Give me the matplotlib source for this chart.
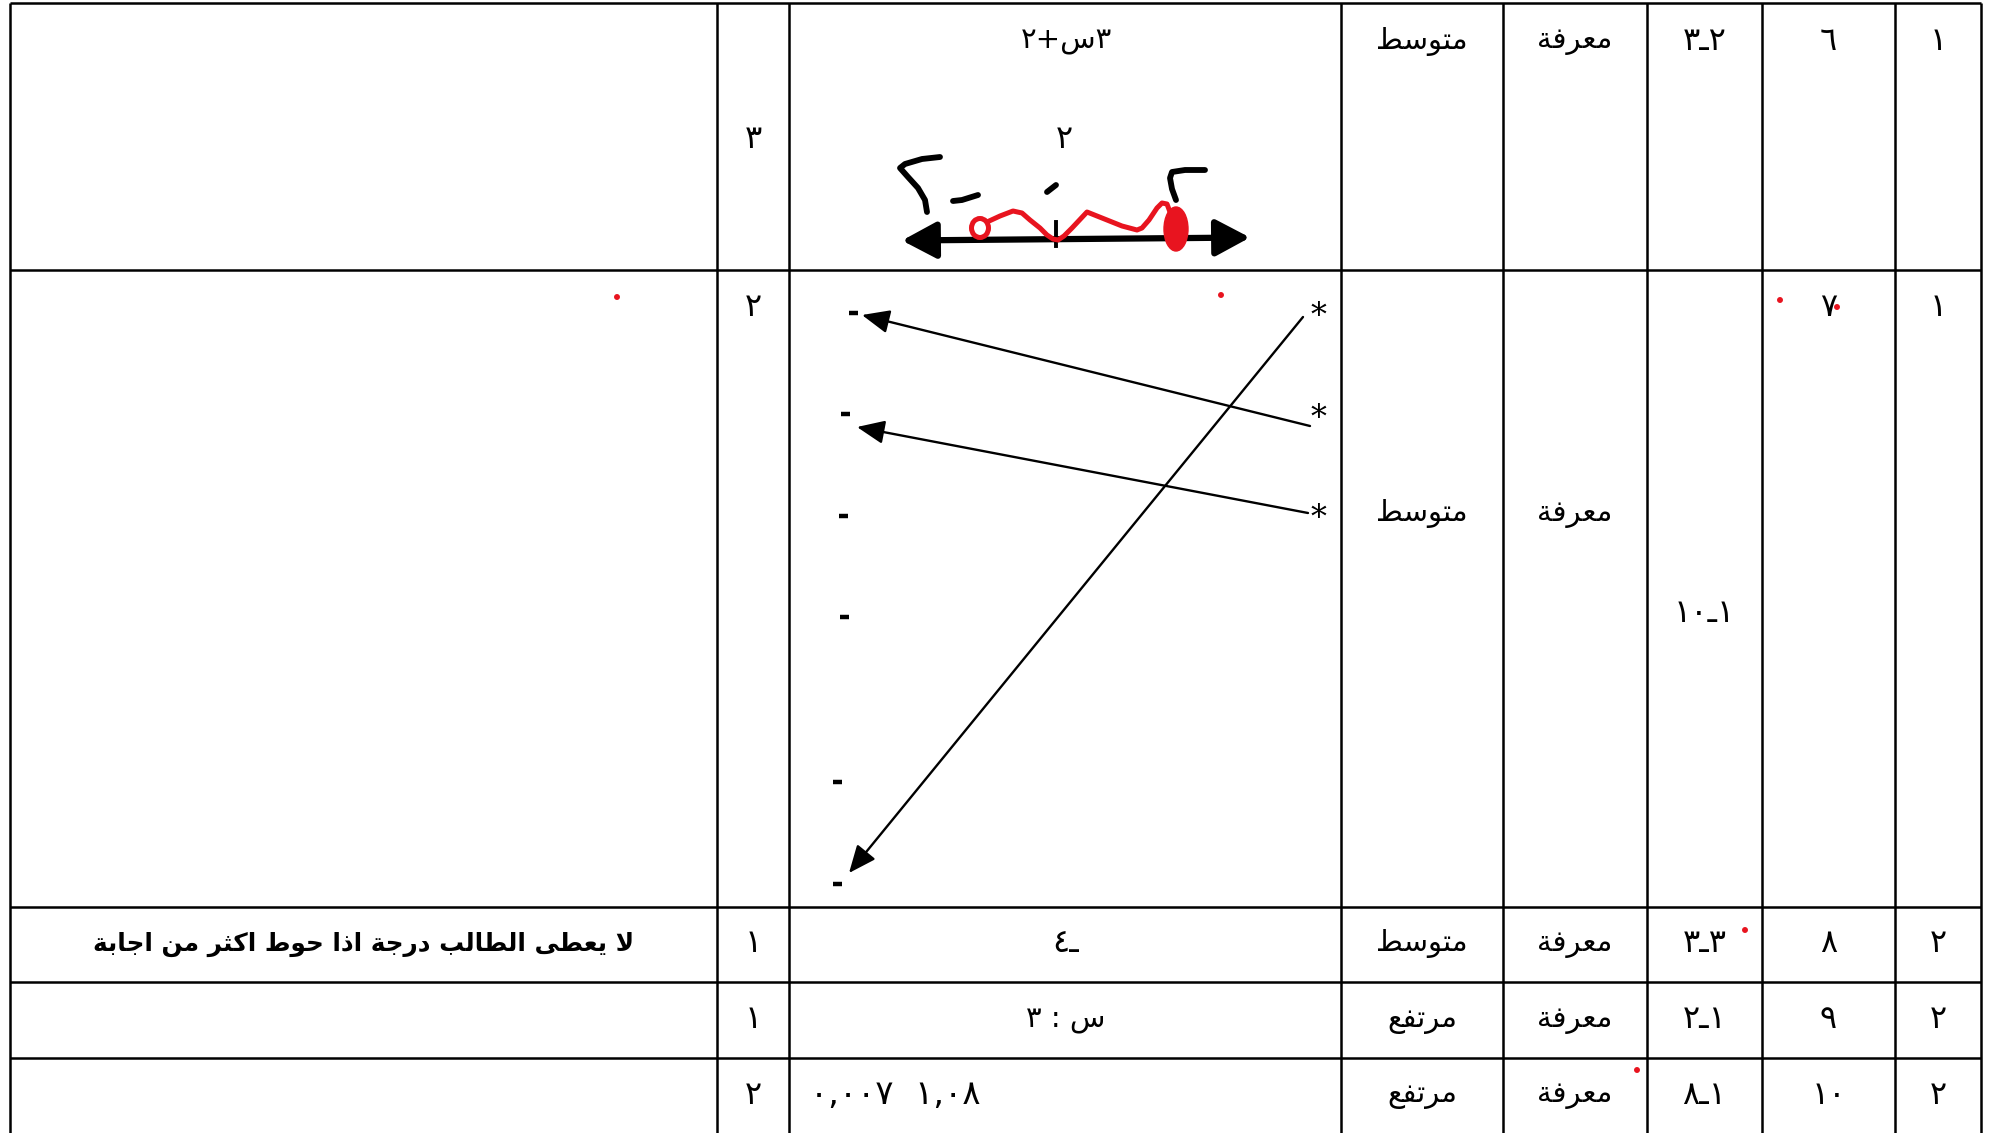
import matplotlib
matplotlib.use("Agg")
import matplotlib.pyplot as plt
from matplotlib.patches import FancyArrowPatch, Ellipse

# ---- table content (right-to-left table, columns listed right -> left) ----
groups = ["١", "١", "٢", "٢", "٢"]
question_no = ["٦", "٧", "٨", "٩", "١٠"]
objectives = ["٣ـ٢", "١٠ـ١", "٣ـ٣", "٢ـ١", "٨ـ١"]          # visual order
domains = ["معرفة", "معرفة", "معرفة", "معرفة", "معرفة"]
levels = ["متوسط", "متوسط", "متوسط", "مرتفع", "مرتفع"]
marks = ["٣", "٢", "١", "١", "٢"]
answers = ["٢+س٣", "", "٤ـ", "٣ : س", "٠,٠٠٧  ١,٠٨"]        # visual order
notes = ["", "", "لا يعطى الطالب درجة اذا حوط اكثر من اجابة", "", ""]
answer_sub = "٢"

# ---- handwriting on the number line (pixel coords) ----
line_x = [902, 1250]
line_y = [240.5, 237.5]
tick_x = [1056, 1056]
tick_y = [222, 246]
left_two_x = [940, 922, 905, 900, 908, 918, 925, 927]
left_two_y = [157, 159, 164, 168, 177, 188, 200, 212]
minus_x = [953, 962, 978]
minus_y = [201, 200, 195]
mid_mark_x = [1047, 1056]
mid_mark_y = [192, 185]
right_two_x = [1205, 1185, 1172, 1170, 1172, 1176]
right_two_y = [170, 170, 172, 178, 189, 200]
squiggle_x = [987, 1000, 1013, 1022, 1030, 1040, 1047, 1053, 1058, 1064, 1072,
              1087, 1097, 1107, 1122, 1137, 1142, 1149, 1157, 1162, 1167, 1170]
squiggle_y = [222, 216, 211, 213, 220, 228, 235, 239, 240, 236, 228,
              212, 216, 220, 226, 230, 228, 220, 208, 203, 204, 212]

# ---- matching exercise (row 2) ----
star_y = [316, 418, 519]
dash_x = [853, 845, 843, 844, 837, 837]
dash_y = [313, 414, 516, 617, 782, 884]
arrow_from = [(1310, 426), (1308, 513), (1303, 317)]
arrow_to = [(862, 315), (857, 427), (849, 873)]

red_dots = [(617, 297), (1221, 295), (1780, 300), (1837, 307), (1745, 930), (1637, 1070)]

# ---- layout ----
x_edges = [10, 717, 789, 1341, 1503, 1647, 1762, 1895, 1981]
y_edges = [2.5, 270, 907, 982, 1058]
row_y = [41, 308, 944, 1020, 1095]
W, H = 1991, 1133

FORMS = {  # isolated, final, initial, medial
    "ا": ("\uFE8D", "\uFE8E", None, None),
    "ب": ("\uFE8F", "\uFE90", "\uFE91", "\uFE92"),
    "ة": ("\uFE93", "\uFE94", None, None),
    "ت": ("\uFE95", "\uFE96", "\uFE97", "\uFE98"),
    "ث": ("\uFE99", "\uFE9A", "\uFE9B", "\uFE9C"),
    "ج": ("\uFE9D", "\uFE9E", "\uFE9F", "\uFEA0"),
    "ح": ("\uFEA1", "\uFEA2", "\uFEA3", "\uFEA4"),
    "د": ("\uFEA9", "\uFEAA", None, None),
    "ذ": ("\uFEAB", "\uFEAC", None, None),
    "ر": ("\uFEAD", "\uFEAE", None, None),
    "س": ("\uFEB1", "\uFEB2", "\uFEB3", "\uFEB4"),
    "ط": ("\uFEC1", "\uFEC2", "\uFEC3", "\uFEC4"),
    "ع": ("\uFEC9", "\uFECA", "\uFECB", "\uFECC"),
    "ف": ("\uFED1", "\uFED2", "\uFED3", "\uFED4"),
    "ك": ("\uFED9", "\uFEDA", "\uFEDB", "\uFEDC"),
    "ل": ("\uFEDD", "\uFEDE", "\uFEDF", "\uFEE0"),
    "م": ("\uFEE1", "\uFEE2", "\uFEE3", "\uFEE4"),
    "ن": ("\uFEE5", "\uFEE6", "\uFEE7", "\uFEE8"),
    "و": ("\uFEED", "\uFEEE", None, None),
    "ى": ("\uFEEF", "\uFEF0", None, None),
    "ي": ("\uFEF1", "\uFEF2", "\uFEF3", "\uFEF4"),
}


def shape(text):
    """Contextual forms + reversal, since matplotlib lays text out left to right."""
    out = []
    i = 0
    while i < len(text):
        ch = text[i]
        prev = text[i - 1] if i > 0 else ""
        joins_prev = prev in FORMS and FORMS[prev][2] is not None
        if ch == "ل" and i + 1 < len(text) and text[i + 1] == "ا":
            out.append("\uFEFC" if joins_prev else "\uFEFB")
            i += 2
            continue
        if ch not in FORMS:
            out.append(ch)
            i += 1
            continue
        nxt = text[i + 1] if i + 1 < len(text) else ""
        joins_next = nxt in FORMS and FORMS[ch][2] is not None
        iso, fin, ini, med = FORMS[ch]
        if joins_prev and joins_next:
            out.append(med)
        elif joins_prev:
            out.append(fin)
        elif joins_next:
            out.append(ini)
        else:
            out.append(iso)
        i += 1
    return "".join(reversed(out))


fig = plt.figure(figsize=(W / 100, H / 100), dpi=100)
ax = fig.add_axes([0, 0, 1, 1])
ax.set_xlim(0, W)
ax.set_ylim(H, 0)
ax.axis("off")

lw = 1.8
for x in x_edges:
    ax.plot([x, x], [y_edges[0], H + 5], color="black", lw=lw, solid_capstyle="butt")
for y in y_edges:
    ax.plot([x_edges[0], x_edges[-1]], [y, y], color="black", lw=lw, solid_capstyle="butt")

fs_num = 23
fs_word = 21
num = dict(ha="center", va="center", fontsize=fs_num, color="black", family="DejaVu Sans")
word = dict(num, fontsize=fs_word)
cx = [(x_edges[i] + x_edges[i + 1]) / 2 for i in range(len(x_edges) - 1)]

for r in range(5):
    y = row_y[r]
    ax.text(cx[7], y, groups[r], **num)
    ax.text(cx[6], y, question_no[r], **num)
    ax.text(cx[5], 613 if r == 1 else y, objectives[r], **num)
    ax.text(cx[4], 514 if r == 1 else y, shape(domains[r]), **word)
    ax.text(cx[3], 514 if r == 1 else y, shape(levels[r]), **word)
    ax.text(cx[1], 140 if r == 0 else y, marks[r], **num)
    if notes[r]:
        ax.text(cx[0], y, shape(notes[r]), ha="center", va="center", fontsize=17.8,
                fontweight="bold", family="DejaVu Sans")
    if answers[r]:
        if r == 4:
            ax.text(810, y, answers[r], ha="left", va="center", fontsize=24.5,
                    family="DejaVu Sans")
        elif r == 2:
            ax.text(1066, y, answers[r], **num)
        else:
            ax.text(1066, y, answers[r], **word)

ax.text(1064, 140, answer_sub, **num)

# number line sketch
ax.add_patch(FancyArrowPatch((line_x[0], line_y[0]), (line_x[1], line_y[1]),
                             arrowstyle="<|-|>,head_length=1.5,head_width=0.8",
                             mutation_scale=14, color="black", lw=4.5, shrinkA=0, shrinkB=0))
ax.plot(tick_x, tick_y, color="black", lw=2.8)
for xs, ys in [(left_two_x, left_two_y), (minus_x, minus_y), (mid_mark_x, mid_mark_y),
               (right_two_x, right_two_y)]:
    ax.plot(xs, ys, color="black", lw=4.2, solid_capstyle="round", solid_joinstyle="round")
red = "#e8141f"
ax.plot(squiggle_x, squiggle_y, color=red, lw=3.6, solid_joinstyle="round",
        solid_capstyle="round")
ax.add_patch(Ellipse((980, 228), 17, 19, fill=False, ec=red, lw=3.6))
ax.add_patch(Ellipse((1176, 229), 24, 44, color=red))

# matching exercise
for y in star_y:
    ax.text(1318, y, "*", ha="center", va="center", fontsize=23, family="DejaVu Serif")
for x, y in zip(dash_x, dash_y):
    ax.plot([x - 4.5, x + 4.5], [y, y], color="black", lw=3.2, solid_capstyle="butt")
for a, b in zip(arrow_from, arrow_to):
    ax.add_patch(FancyArrowPatch(a, b, arrowstyle="-|>,head_length=1.4,head_width=0.6",
                                 mutation_scale=12, color="black", lw=1.7,
                                 shrinkA=0, shrinkB=0))

for x, y in red_dots:
    ax.add_patch(Ellipse((x, y), 4.5, 4.5, color=red))

fig.savefig("out.png", dpi=100, facecolor="white")
